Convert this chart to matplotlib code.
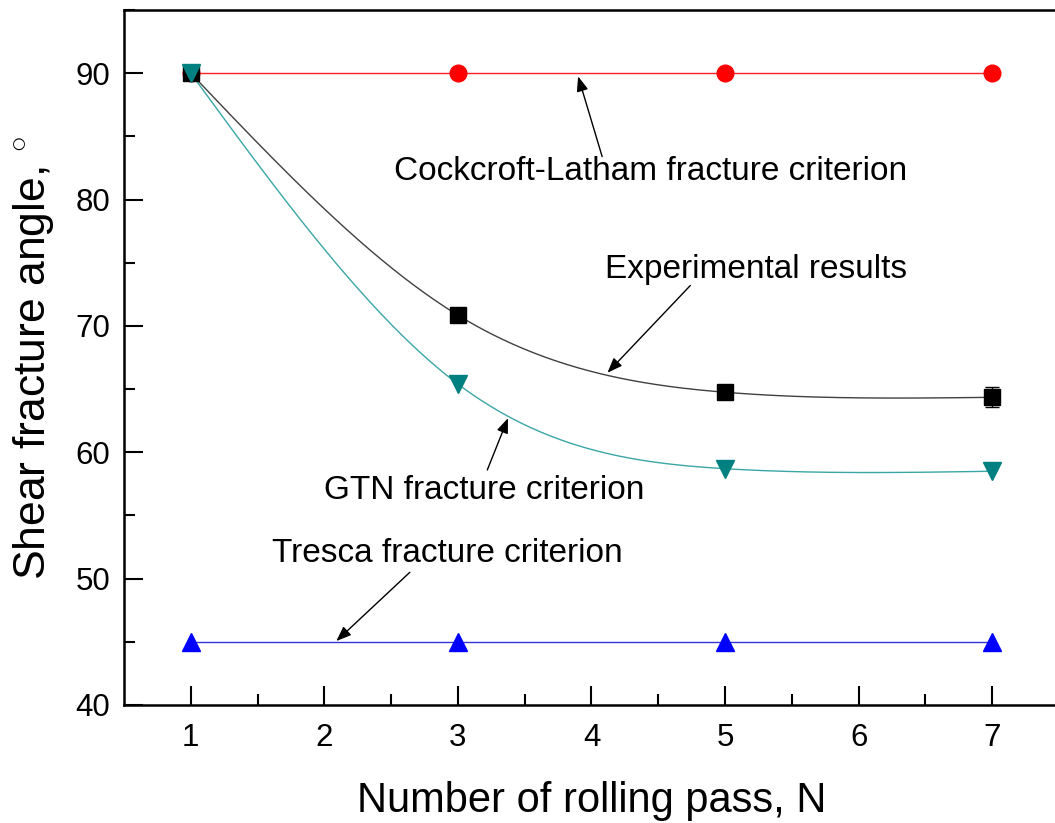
import numpy as np
import matplotlib
matplotlib.use("Agg")
import matplotlib.pyplot as plt

plt.rcParams['font.family'] = ['Liberation Sans', 'DejaVu Sans']
plt.rcParams['mathtext.fontset'] = 'custom'
plt.rcParams['mathtext.rm'] = 'Liberation Sans'

passes = [1, 3, 5, 7]
cockcroft = [90, 90, 90, 90]
experimental = [90.0, 70.85, 64.75, 64.35]
experimental_err = [0.0, 0.55, 0.3, 0.8]
gtn = [90.0, 65.4, 58.7, 58.5]
tresca = [45, 45, 45, 45]


def natural_spline(x, y, n=300):
    x = np.asarray(x, float)
    y = np.asarray(y, float)
    k = len(x)
    h = np.diff(x)
    A = np.zeros((k, k))
    b = np.zeros(k)
    A[0, 0] = 1
    A[-1, -1] = 1
    for i in range(1, k - 1):
        A[i, i - 1] = h[i - 1]
        A[i, i] = 2 * (h[i - 1] + h[i])
        A[i, i + 1] = h[i]
        b[i] = 6 * ((y[i + 1] - y[i]) / h[i] - (y[i] - y[i - 1]) / h[i - 1])
    M = np.linalg.solve(A, b)
    xs = np.linspace(x[0], x[-1], n)
    ys = np.empty_like(xs)
    for j, xv in enumerate(xs):
        i = min(np.searchsorted(x, xv, side='right') - 1, k - 2)
        t1 = x[i + 1] - xv
        t0 = xv - x[i]
        ys[j] = (M[i] * t1**3 / (6 * h[i]) + M[i + 1] * t0**3 / (6 * h[i])
                 + (y[i] / h[i] - M[i] * h[i] / 6) * t1
                 + (y[i + 1] / h[i] - M[i + 1] * h[i] / 6) * t0)
    return xs, ys


fig = plt.figure(figsize=(10.55, 8.23), dpi=100)
ax = fig.add_axes([0.1175, 0.1434, 0.8863, 0.8444])

# Cockcroft-Latham
ax.plot(passes, cockcroft, color='#ff2020', lw=1.0, zorder=2)
ax.plot(passes, cockcroft, 'o', color='#ff0000', ms=12, zorder=3)

# Tresca
ax.plot(passes, tresca, color='#3333dd', lw=1.0, zorder=2)
ax.plot(passes, tresca, '^', color='#0000ff', ms=13, zorder=3)

# Experimental
xs, ys = natural_spline(passes, experimental)
ax.plot(xs, ys, color='#404040', lw=1.0, zorder=2)
ax.errorbar(passes, experimental, yerr=experimental_err, fmt='s', color='black',
            ms=11, capsize=5, elinewidth=1, capthick=1, zorder=4)

# GTN
xs, ys = natural_spline(passes, gtn)
ax.plot(xs, ys, color='#3aa6a6', lw=1.0, zorder=2)
ax.plot(passes, gtn, 'v', color='#008080', ms=13, zorder=5)

ax.set_xlim(0.5, 7.5)
ax.set_ylim(40, 95)
ax.set_xticks([1, 2, 3, 4, 5, 6, 7])
ax.set_xticks([1.5, 2.5, 3.5, 4.5, 5.5, 6.5], minor=True)
ax.set_yticks([40, 50, 60, 70, 80, 90])
ax.set_yticks([45, 55, 65, 75, 85, 95], minor=True)
ax.tick_params(which='major', direction='in', length=14, width=1.5, labelsize=22.5)
ax.tick_params(axis='y', which='major', pad=10)
ax.tick_params(axis='x', which='major', pad=13)
ax.tick_params(which='minor', direction='in', length=8, width=1.5)
for s in ax.spines.values():
    s.set_linewidth(1.8)

ax.set_xlabel('Number of rolling pass, N', fontsize=30, labelpad=20)
ax.set_ylabel('Shear fracture angle, $^{\\circ}$', fontsize=32, labelpad=14)

arrow = dict(arrowstyle='-|>,head_length=0.9,head_width=0.35', color='black', lw=1.0,
             shrinkA=0, shrinkB=0)
fs = 24
ax.annotate('', xy=(3.90, 89.75), xytext=(4.08, 83.4), arrowprops=arrow)
ax.text(4.44, 82.2, 'Cockcroft-Latham fracture criterion', fontsize=fs,
        ha='center', va='center')

ax.annotate('', xy=(4.12, 66.3), xytext=(4.74, 73.2), arrowprops=arrow)
ax.text(5.23, 74.5, 'Experimental results', fontsize=fs, ha='center', va='center')

ax.annotate('', xy=(3.375, 62.7), xytext=(3.22, 58.6), arrowprops=arrow)
ax.text(3.20, 57.0, 'GTN fracture criterion', fontsize=fs, ha='center', va='center')

ax.annotate('', xy=(2.09, 45.06), xytext=(2.64, 50.5), arrowprops=arrow)
ax.text(2.92, 52.0, 'Tresca fracture criterion', fontsize=fs, ha='center', va='center')

fig.savefig('out.png', dpi=100)
